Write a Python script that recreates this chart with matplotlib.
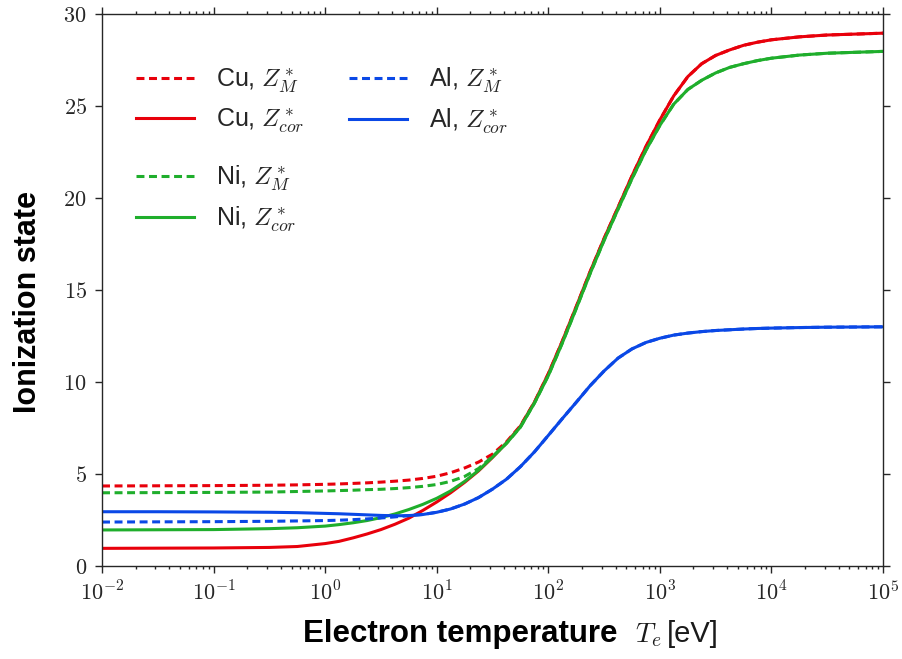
import numpy as npy
import matplotlib
matplotlib.use("Agg")
import matplotlib.pyplot as plt
from matplotlib.ticker import FixedLocator, FuncFormatter

# electron temperature samples [eV]
te = [0.01, 0.0316, 0.1, 0.316, 0.562,
      1.0, 1.33, 1.78, 2.37, 3.16, 4.22, 5.62, 7.5,
      10.0, 13.3, 17.8, 23.7, 31.6, 42.2, 56.2, 75.0,
      100.0, 133.0, 178.0, 237.0, 316.0, 422.0, 562.0, 750.0,
      1000.0, 1330.0, 1780.0, 2370.0, 3160.0, 4220.0, 5620.0, 7500.0,
      1.0e4, 1.78e4, 3.16e4, 1.0e5]

# ionization states
cu_m   = [4.35, 4.36, 4.37, 4.39, 4.41,
          4.44, 4.46, 4.49, 4.52, 4.56, 4.61, 4.67, 4.76,
          4.88, 5.07, 5.33, 5.65, 6.08, 6.75, 7.62, 8.90,
          10.45, 12.2, 14.1, 16.0, 17.8, 19.5, 21.2, 22.8,
          24.25, 25.55, 26.6, 27.3, 27.75, 28.05, 28.3, 28.47,
          28.6, 28.76, 28.86, 28.96]
cu_cor = [0.96, 0.97, 0.98, 1.01, 1.06,
          1.22, 1.34, 1.53, 1.74, 1.98, 2.27, 2.60, 3.02,
          3.48, 3.98, 4.55, 5.17, 5.90, 6.70, 7.60, 8.90,
          10.45, 12.2, 14.1, 16.0, 17.8, 19.5, 21.2, 22.8,
          24.25, 25.55, 26.6, 27.3, 27.75, 28.05, 28.3, 28.47,
          28.6, 28.76, 28.86, 28.96]
ni_m   = [3.98, 3.99, 4.00, 4.02, 4.05,
          4.08, 4.10, 4.12, 4.15, 4.17, 4.21, 4.26, 4.33,
          4.43, 4.60, 4.87, 5.30, 5.95, 6.67, 7.55, 8.85,
          10.35, 12.1, 14.0, 15.9, 17.7, 19.4, 21.05, 22.6,
          23.95, 25.1, 25.9, 26.4, 26.8, 27.1, 27.3, 27.47,
          27.6, 27.77, 27.87, 27.97]
ni_cor = [1.96, 1.97, 1.98, 2.03, 2.08,
          2.17, 2.25, 2.35, 2.47, 2.63, 2.83, 3.07, 3.35,
          3.68, 4.08, 4.60, 5.20, 5.92, 6.67, 7.55, 8.85,
          10.35, 12.1, 14.0, 15.9, 17.7, 19.4, 21.05, 22.6,
          23.95, 25.1, 25.9, 26.4, 26.8, 27.1, 27.3, 27.47,
          27.6, 27.77, 27.87, 27.97]
al_m   = [2.39, 2.40, 2.41, 2.43, 2.45,
          2.47, 2.49, 2.52, 2.56, 2.61, 2.67, 2.74, 2.80,
          2.92, 3.10, 3.37, 3.72, 4.18, 4.72, 5.40, 6.20,
          7.10, 8.00, 8.90, 9.80, 10.6, 11.3, 11.8, 12.15,
          12.38, 12.55, 12.66, 12.74, 12.8, 12.84, 12.88, 12.91,
          12.93, 12.96, 12.98, 13.0]
al_cor = [2.95, 2.95, 2.94, 2.92, 2.90,
          2.86, 2.84, 2.81, 2.78, 2.75, 2.73, 2.74, 2.80,
          2.92, 3.10, 3.37, 3.72, 4.18, 4.72, 5.40, 6.20,
          7.10, 8.00, 8.90, 9.80, 10.6, 11.3, 11.8, 12.15,
          12.38, 12.55, 12.66, 12.74, 12.8, 12.84, 12.88, 12.91,
          12.93, 12.96, 12.98, 13.0]

x_exponents = [-2, -1, 0, 1, 2, 3, 4, 5]
y_ticks = [0, 5, 10, 15, 20, 25, 30]

plt.rcParams['font.family'] = ['Liberation Sans', 'DejaVu Sans']
plt.rcParams['mathtext.fontset'] = 'cm'
plt.rcParams['text.color'] = '0.15'
plt.rcParams['axes.edgecolor'] = '0.15'
plt.rcParams['xtick.color'] = '0.15'
plt.rcParams['ytick.color'] = '0.15'

red   = '#e8000b'
green = '#1fae2c'
blue  = '#0a48e6'
lw = 2.2
dash = (0, (2.6, 1.5))

fig = plt.figure(figsize=(9.03, 6.59), dpi=100)
ax = fig.add_axes([0.113, 0.1411, 0.8649, 0.8376])

l_cum, = ax.plot(te, cu_m, color=red, lw=lw, linestyle=dash, label=r'Cu, $Z^*_M$')
l_cuc, = ax.plot(te, cu_cor, color=red, lw=lw, label=r'Cu, $Z^*_{cor}$')
l_nim, = ax.plot(te, ni_m, color=green, lw=lw, linestyle=dash, label=r'Ni, $Z^*_M$')
l_nic, = ax.plot(te, ni_cor, color=green, lw=lw, label=r'Ni, $Z^*_{cor}$')
l_alm, = ax.plot(te, al_m, color=blue, lw=lw, linestyle=dash, label=r'Al, $Z^*_M$')
l_alc, = ax.plot(te, al_cor, color=blue, lw=lw, label=r'Al, $Z^*_{cor}$')

ax.set_xscale('log')
ax.set_xlim(1e-2, 1e5)
ax.set_ylim(0, 30)

ax.xaxis.set_major_locator(FixedLocator([10.0**e for e in x_exponents]))
ax.xaxis.set_major_formatter(FuncFormatter(lambda v, p: r'$10^{%d}$' % int(round(npy.log10(v)))))
ax.yaxis.set_major_locator(FixedLocator(y_ticks))
ax.yaxis.set_major_formatter(FuncFormatter(lambda v, p: r'$%d$' % v))

ax.tick_params(which='both', direction='out', top=True, right=True, width=1.0)
ax.tick_params(which='major', length=5, labelsize=16, pad=6)
ax.tick_params(which='minor', length=2.5)
for sp in ax.spines.values():
    sp.set_linewidth(1.0)

ax.set_ylabel('Ionization state', fontsize=22, fontweight='bold', color='black')
ax.yaxis.set_label_coords(-0.0756, 0.479)

# x label: bold words, then math symbol and unit in normal weight
fig.text(303/903, 1 - 642/659, 'Electron temperature', fontsize=22.5, fontweight='bold',
         color='black', ha='left', va='baseline')
fig.text(635/903, 1 - 642/659, r'$T_e$', fontsize=20, ha='left', va='baseline', color='0.1')
fig.text(667/903, 1 - 642/659, '[eV]', fontsize=21, ha='left', va='baseline', color='0.1')

legkw = dict(loc='upper left', frameon=False, fontsize=18, borderpad=0, borderaxespad=0,
             handlelength=2.32, handletextpad=0.88, labelspacing=0.46)
leg1 = ax.legend(handles=[l_cum, l_cuc, l_alm, l_alc], ncol=2, columnspacing=1.8,
                 bbox_to_anchor=(0.0435, 0.9057), **legkw)
ax.add_artist(leg1)
ax.legend(handles=[l_nim, l_nic], bbox_to_anchor=(0.0435, 0.7284), **legkw)

fig.savefig('out.png', dpi=100)
